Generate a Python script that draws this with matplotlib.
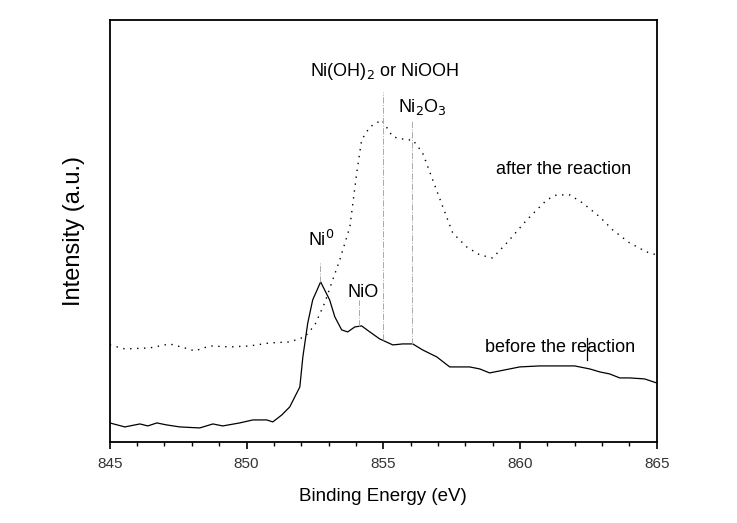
import numpy as np
import matplotlib
matplotlib.use("Agg")
import matplotlib.pyplot as plt
from matplotlib.ticker import MultipleLocator

plt.rcParams['font.family'] = ['Liberation Sans', 'DejaVu Sans']

# before the reaction (solid)
E_before = [845.0, 845.55, 846.1, 846.39, 846.72, 847.08, 847.56, 848.29, 848.77, 849.13,
            849.75, 850.23, 850.74, 850.96, 851.29, 851.58, 851.95, 852.06, 852.24, 852.42,
            852.71, 853.04, 853.23, 853.48, 853.7, 853.96, 854.21, 854.51, 854.87, 855.35,
            855.71, 856.08, 856.44, 856.96, 857.43, 857.8, 858.16, 858.53, 858.89, 859.26,
            859.99, 860.72, 861.45, 862.0, 862.55, 862.92, 863.28, 863.65, 864.01, 864.56,
            865.0]
I_before = [19, 15, 18, 16, 19, 17, 15, 14, 18, 16,
            19, 22, 22, 20, 27, 35, 55, 85, 119, 142,
            160, 142, 125, 112, 110, 115, 116, 110, 103, 97,
            98, 98, 92, 85, 75, 75, 75, 73, 69, 71,
            75, 76, 76, 76, 73, 70, 68, 64, 64, 63,
            59]

# after the reaction (dotted)
E_after = [845.0, 845.55, 846.46, 847.19, 847.74, 848.11, 848.66, 849.39, 850.12, 850.85,
           851.58, 852.13, 852.5, 852.86, 853.1, 853.41, 853.78, 854.03, 854.21, 854.51,
           854.95, 855.35, 855.86, 856.08, 856.44, 856.81, 857.18, 857.54, 858.05, 858.53,
           859.0, 859.52, 860.25, 860.98, 861.34, 861.82, 862.29, 862.92, 863.39, 864.01,
           864.63, 865.0]
I_after = [97, 93, 94, 98, 94, 91, 96, 95, 96, 99,
           100, 105, 117, 139, 158, 182, 215, 269, 302, 315,
           322, 305, 302, 302, 289, 262, 235, 209, 195, 187,
           184, 199, 222, 242, 247, 247, 239, 225, 212, 199,
           190, 187]

# assignment markers: energy, bottom, top
peak_E = [852.7, 854.1, 855.0, 856.05]
peak_lo = [160, 116, 102, 98]
peak_hi = [180, 142, 350, 322]

fig = plt.figure(figsize=(7.37, 5.23), dpi=100)
ax = fig.add_axes([0.149, 0.155, 0.742, 0.807])

ax.plot(E_before, I_before, color='black', lw=0.9)
ax.plot(E_after, I_after, color='black', lw=1.0, linestyle=(0, (1, 4)))

for e, lo, hi in zip(peak_E, peak_lo, peak_hi):
    ax.plot([e, e], [lo, hi], color='#aaaaaa', lw=0.7, linestyle='-.')

fs = 13
ax.text(855.05, 370, r'Ni(OH)$_2$ or NiOOH', ha='center', va='center', fontsize=fs)
ax.text(856.44, 335, r'Ni$_2$O$_3$', ha='center', va='center', fontsize=fs)
ax.text(852.72, 202, r'Ni$^0$', ha='center', va='center', fontsize=fs)
ax.text(854.25, 149, 'NiO', ha='center', va='center', fontsize=fs)
ax.text(859.11, 272, 'after the reaction', ha='left', va='center', fontsize=13)
ax.text(858.71, 94, 'before the reaction', ha='left', va='center', fontsize=13)
ax.plot([862.44, 862.44], [82, 104], color='black', lw=0.9)

ax.set_xlim(845, 865)
ax.set_ylim(0, 422)
ax.xaxis.set_major_locator(MultipleLocator(5))
ax.xaxis.set_minor_locator(MultipleLocator(1))
ax.tick_params(axis='x', which='major', length=5, width=1.2, direction='out',
               labelsize=11, labelcolor='#333333', pad=6)
ax.tick_params(axis='x', which='minor', length=3, width=1.0, direction='out')
ax.set_yticks([])
for s in ax.spines.values():
    s.set_linewidth(1.3)

ax.set_xlabel('Binding Energy (eV)', fontsize=13.5, labelpad=12)
ax.set_ylabel('Intensity (a.u.)', fontsize=17, labelpad=18)

fig.savefig('out.png', dpi=100)
